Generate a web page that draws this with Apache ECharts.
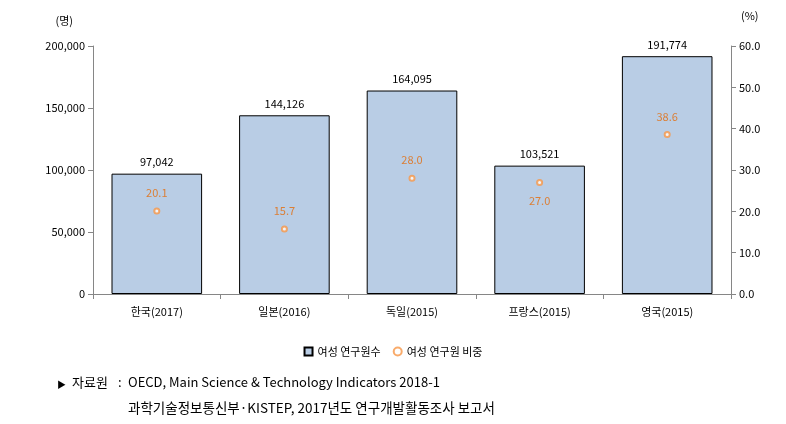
<!DOCTYPE html>
<html><head><meta charset="utf-8">
<script src="https://cdn.jsdelivr.net/npm/echarts@6/dist/echarts.min.js"></script>
<style>html,body{margin:0;padding:0;background:#fff}#c{width:786px;height:424px}</style>
</head><body><div id="c"></div>
<script>
const categories = ['한국(2017)', '일본(2016)', '독일(2015)', '프랑스(2015)', '영국(2015)'];
const researchers = [97042, 144126, 164095, 103521, 191774];
const shares = [20.1, 15.7, 28.0, 27.0, 38.6];
const shareLabelPos = ['top', 'top', 'top', 'bottom', 'top'];
const leftTicks = [0, 50000, 100000, 150000, 200000];
const rightTicks = [0, 10, 20, 30, 40, 50, 60];

const font = '"Noto Sans CJK KR", "Noto Sans", sans-serif';
const axisColor = '#868686';
const chart = echarts.init(document.getElementById('c'));
chart.setOption({
  animation: false,
  textStyle: { fontFamily: font },
  grid: { left: 93, right: 55, top: 46, bottom: 130 },
  legend: {
    bottom: 62, left: 'center', itemGap: 12, itemWidth: 8, itemHeight: 8,
    textStyle: { fontSize: 11, color: '#000', fontFamily: font },
    data: [
      { name: '여성 연구원수', icon: 'rect' },
      { name: '여성 연구원 비중', icon: 'emptyCircle' }
    ]
  },
  xAxis: {
    type: 'category', data: categories,
    axisLine: { lineStyle: { color: axisColor } },
    axisTick: { show: true, length: 5, lineStyle: { color: axisColor } },
    axisLabel: { color: '#000', fontSize: 11, margin: 12 }
  },
  yAxis: [
    {
      type: 'value', min: 0, max: 200000, interval: 50000,
      name: '(명)', nameLocation: 'end', nameGap: 20,
      nameTextStyle: { color: '#000', fontSize: 11, align: 'right', padding: [0, 20, 0, 0] },
      axisLine: { show: true, lineStyle: { color: axisColor } },
      axisTick: { show: true, length: 5, lineStyle: { color: axisColor } },
      splitLine: { show: false },
      axisLabel: { color: '#000', fontSize: 11, margin: 8,
        formatter: v => v.toLocaleString('en-US') }
    },
    {
      type: 'value', min: 0, max: 60, interval: 10, position: 'right',
      name: '(%)', nameLocation: 'end', nameGap: 25,
      nameTextStyle: { color: '#000', fontSize: 11, align: 'left', padding: [0, 0, 0, 10] },
      axisLine: { show: true, lineStyle: { color: axisColor } },
      axisTick: { show: true, length: 5, inside: false, lineStyle: { color: axisColor } },
      splitLine: { show: false },
      axisLabel: { color: '#000', fontSize: 11, margin: 8, formatter: v => v.toFixed(1) }
    }
  ],
  series: [
    {
      name: '여성 연구원수', type: 'bar', data: researchers, yAxisIndex: 0,
      barCategoryGap: '29%',
      itemStyle: { color: '#B9CDE5', borderColor: '#000', borderWidth: 1 },
      label: { show: true, position: 'top', distance: 6, color: '#000', fontSize: 11,
        formatter: p => p.value.toLocaleString('en-US') }
    },
    {
      name: '여성 연구원 비중', type: 'scatter', yAxisIndex: 1,
      symbol: 'emptyCircle', symbolSize: 5,
      itemStyle: { color: '#F79646', borderWidth: 1.3 },
      data: shares.map((v, i) => ({
        value: v,
        label: { show: true, position: shareLabelPos[i], distance: 9, color: '#E46C0A', fontSize: 11,
          formatter: p => Number(p.value).toFixed(1) }
      }))
    }
  ],
  graphic: [
    { type: 'text', left: 57, top: 380, style: { text: '▶', fontSize: 9, fill: '#000', fontFamily: font } },
    { type: 'text', left: 72, top: 376, style: { text: '자료원', fontSize: 13, fill: '#000', fontFamily: font } },
    { type: 'text', left: 118, top: 376, style: { text: ':', fontSize: 13, fill: '#000', fontFamily: font } },
    { type: 'text', left: 128, top: 376, style: { text: 'OECD, Main Science & Technology Indicators 2018-1', fontSize: 13, fill: '#000', fontFamily: font } },
    { type: 'text', left: 128, top: 401, style: { text: '과학기술정보통신부·KISTEP, 2017년도 연구개발활동조사 보고서', fontSize: 13.5, fill: '#000', fontFamily: font } }
  ]
});
</script></body></html>
